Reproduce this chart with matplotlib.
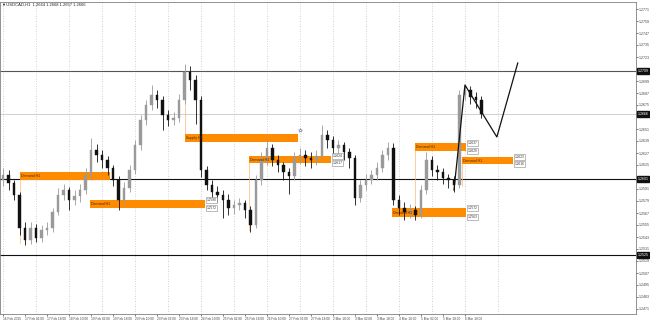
import matplotlib.pyplot as plt
from matplotlib.patches import Rectangle

# USDCAD H1 prices (one value per drawn candle)
closes = [1.2605, 1.2597, 1.2585, 1.2552, 1.2540, 1.2552, 1.2542, 1.2550, 1.2552, 1.2568,
          1.2585, 1.2590, 1.2580, 1.2584, 1.2590, 1.2605, 1.2630, 1.2625, 1.2620, 1.2612,
          1.2600, 1.2580, 1.2592, 1.2610, 1.2635, 1.2660, 1.2675, 1.2685, 1.2680, 1.2665,
          1.2660, 1.2662, 1.2680, 1.2708, 1.2700, 1.2680, 1.2610, 1.2595, 1.2588, 1.2585,
          1.2580, 1.2572, 1.2575, 1.2577, 1.2570, 1.2555, 1.2600, 1.2620, 1.2632, 1.2620,
          1.2615, 1.2608, 1.2604, 1.2622, 1.2625, 1.2622, 1.2620, 1.2624, 1.2645, 1.2640,
          1.2632, 1.2635, 1.2628, 1.2622, 1.2582, 1.2595, 1.2600, 1.2605, 1.2612, 1.2625,
          1.2632, 1.2580, 1.2572, 1.2568, 1.2570, 1.2565, 1.2590, 1.2620, 1.2610, 1.2608,
          1.2602, 1.2600, 1.2595, 1.2685, 1.2690, 1.2683, 1.2680, 1.2666]
highs = [1.2612, 1.2610, 1.2600, 1.2588, 1.2558, 1.2558, 1.2556, 1.2555, 1.2558, 1.2572,
         1.2592, 1.2596, 1.2593, 1.2590, 1.2596, 1.2612, 1.2642, 1.2636, 1.2630, 1.2624,
         1.2615, 1.2604, 1.2598, 1.2615, 1.2640, 1.2665, 1.2680, 1.2695, 1.2690, 1.2684,
         1.2670, 1.2668, 1.2686, 1.2716, 1.2714, 1.2705, 1.2684, 1.2614, 1.2600, 1.2594,
         1.2590, 1.2586, 1.2580, 1.2582, 1.2580, 1.2574, 1.2605, 1.2628, 1.2642, 1.2636,
         1.2625, 1.2618, 1.2612, 1.2628, 1.2632, 1.2630, 1.2628, 1.2630, 1.2655, 1.2650,
         1.2644, 1.2640, 1.2638, 1.2632, 1.2625, 1.2600, 1.2606, 1.2610, 1.2618, 1.2630,
         1.2638, 1.2637, 1.2585, 1.2578, 1.2576, 1.2574, 1.2595, 1.2628, 1.2624, 1.2615,
         1.2612, 1.2606, 1.2604, 1.2690, 1.2695, 1.2694, 1.2688, 1.2684]
lows = [1.2594, 1.2590, 1.2580, 1.2545, 1.2535, 1.2536, 1.2538, 1.2538, 1.2545, 1.2548,
        1.2565, 1.2580, 1.2570, 1.2575, 1.2578, 1.2586, 1.2600, 1.2618, 1.2612, 1.2605,
        1.2594, 1.2570, 1.2576, 1.2588, 1.2606, 1.2630, 1.2655, 1.2670, 1.2672, 1.2650,
        1.2654, 1.2655, 1.2658, 1.2676, 1.2690, 1.2656, 1.2603, 1.2590, 1.2582, 1.2578,
        1.2562, 1.2565, 1.2566, 1.2570, 1.2562, 1.2548, 1.2552, 1.2595, 1.2615, 1.2614,
        1.2608, 1.2600, 1.2586, 1.2600, 1.2616, 1.2614, 1.2612, 1.2615, 1.2620, 1.2632,
        1.2625, 1.2626, 1.2620, 1.2612, 1.2575, 1.2578, 1.2590, 1.2596, 1.2600, 1.2608,
        1.2620, 1.2575, 1.2565, 1.2560, 1.2562, 1.2560, 1.2562, 1.2586, 1.2604, 1.2600,
        1.2596, 1.2592, 1.2588, 1.2592, 1.2680, 1.2676, 1.2672, 1.2662]
first_open = 1.2600

date_labels = ["16 Feb 2015", "17 Feb 02:00", "17 Feb 18:00", "18 Feb 10:00", "19 Feb 02:00",
               "19 Feb 18:00", "20 Feb 10:00", "23 Feb 02:00", "23 Feb 18:00", "24 Feb 10:00",
               "25 Feb 02:00", "25 Feb 18:00", "26 Feb 10:00", "27 Feb 02:00", "27 Feb 18:00",
               "2 Mar 10:00", "3 Mar 02:00", "3 Mar 18:00", "4 Mar 10:00", "5 Mar 02:00",
               "5 Mar 18:00", "6 Mar 10:00"]

# zones: (start bar, end bar, top, bottom, label)
zones = [(3.1, 19.5, 1.2608, 1.2600, "Demand H1"),
         (15.8, 36.7, 1.2580, 1.2572, "Demand H1"),
         (33.1, 53.6, 1.2646, 1.2638, "Supply H1"),
         (44.7, 59.6, 1.2624, 1.2617, "Demand H1"),
         (70.7, 84.2, 1.2572, 1.2563, "Demand H1"),
         (74.9, 84.2, 1.2637, 1.2629, "Demand H1"),
         (83.5, 92.7, 1.2623, 1.2616, "Demand H1")]
zone_tags = [False, True, False, True, True, True, True]
# thin lines joining a zone to the extreme that formed it: (bar, from, to)
zone_links = [(3.1, 1.2600, 1.2537), (33.1, 1.2646, 1.2715), (44.7, 1.2617, 1.2550),
              (74.9, 1.2629, 1.2563), (83.5, 1.2616, 1.2594)]
star_mark = (54.0, 1.2650)

zigzag_x = [82, 84, 89.8, 93.6]
zigzag_y = [1.2590, 1.2695, 1.2643, 1.2717]

levels = [1.2709, 1.2601, 1.2525]
last_price = 1.2666
ohlc_title = "USDCAD,H1  1.2664 1.2668 1.2657 1.2666"

opens = [first_open] + closes[:-1]
n = len(closes)
idx = list(range(n))

plt.rcParams['font.family'] = ['Liberation Sans', 'DejaVu Sans']
fig = plt.figure(figsize=(6.5, 3.23), dpi=100)
ax = fig.add_axes([0.0, 9 / 323, 636 / 650, 312 / 323])

# grid
for g in range(0, 91, 6):
    ax.axvline(g, color='#c4c4c4', lw=0.6, ls=(0, (1, 2)), zorder=0)

# levels
ax.axhline(levels[0], color='#555555', lw=0.8, zorder=1)
ax.axhline(levels[1], color='#111111', lw=0.8, zorder=1)
ax.axhline(levels[2], color='#111111', lw=0.8, zorder=1)
ax.axhline(last_price, color='#c8c8c8', lw=0.6, zorder=1)

# zones
for (x0, x1, top, bot, lab), tag in zip(zones, zone_tags):
    ax.add_patch(Rectangle((x0, bot), x1 - x0, top - bot, facecolor='#ff8c00',
                           edgecolor='none', zorder=2))
    ax.text(x0 + 0.2, (top + bot) / 2, lab, fontsize=2.6, color='#3a2a10',
            va='center', ha='left', zorder=6)
    if tag:
        for p in (top, bot):
            ax.text(x1 + 0.3, p, f"{p:.4f}", fontsize=2.3, color='#333333', va='center',
                    ha='left', zorder=6,
                    bbox=dict(boxstyle='square,pad=0.2', fc='white', ec='#888888', lw=0.4))
for bx, p0, p1 in zone_links:
    ax.plot([bx, bx], [p0, p1], color='#ffb870', lw=0.5, zorder=1.5)
ax.plot(*star_mark, marker='*', ms=3, mfc='none', mec='#7a7aa8', mew=0.4, zorder=6)

# candles
for i in idx:
    up = closes[i] >= opens[i]
    col = '#9a9a9a' if up else '#111111'
    ax.vlines(i, lows[i], highs[i], color=col, lw=0.6, zorder=4)
    lo = min(opens[i], closes[i])
    h = max(abs(closes[i] - opens[i]), 0.00005)
    ax.bar(i, h, bottom=lo, width=0.45, color=col, edgecolor=col, lw=0.3, zorder=4)

ax.plot(zigzag_x, zigzag_y, color='#111111', lw=0.9, zorder=5)

ax.set_xlim(-0.55, 115.1)
ax.set_ylim(1.2466, 1.2778)

# price axis (labels under the highlighted boxes are left out)
ticks = [round(1.2771 - 0.0012 * k, 4) for k in range(26)]
ax.yaxis.tick_right()
ax.set_yticks(ticks)
ax.set_yticklabels(["" if min(abs(t - p) for p in levels + [last_price]) < 0.0005
                    else f"{t:.4f}" for t in ticks])
ax.tick_params(axis='y', labelsize=2.6, length=1.2, width=0.5, pad=0.6,
               colors='#444444', direction='out')
for p in levels + [last_price]:
    ax.annotate(f"{p:.4f}", xy=(1.0, p), xycoords=('axes fraction', 'data'),
                xytext=(1.0, 0), textcoords='offset points', fontsize=2.6, color='white',
                va='center', ha='left', annotation_clip=False, zorder=10,
                bbox=dict(boxstyle='square,pad=0.15', fc='#111111', ec='#111111'))

# time axis
xt = [4 * k for k in range(len(date_labels))]
ax.set_xticks(xt)
ax.set_xticklabels(date_labels, ha='left')
ax.tick_params(axis='x', labelsize=2.3, length=1.5, width=0.5, pad=1,
               colors='#444444', direction='out')

for s in ax.spines.values():
    s.set_color('#808080')
    s.set_linewidth(0.6)

ax.text(0.003, 0.997, "\u25bc" + ohlc_title, transform=ax.transAxes, fontsize=3.0,
        color='#222222', va='top', ha='left')

fig.savefig('out.png', dpi=100, facecolor='white')
